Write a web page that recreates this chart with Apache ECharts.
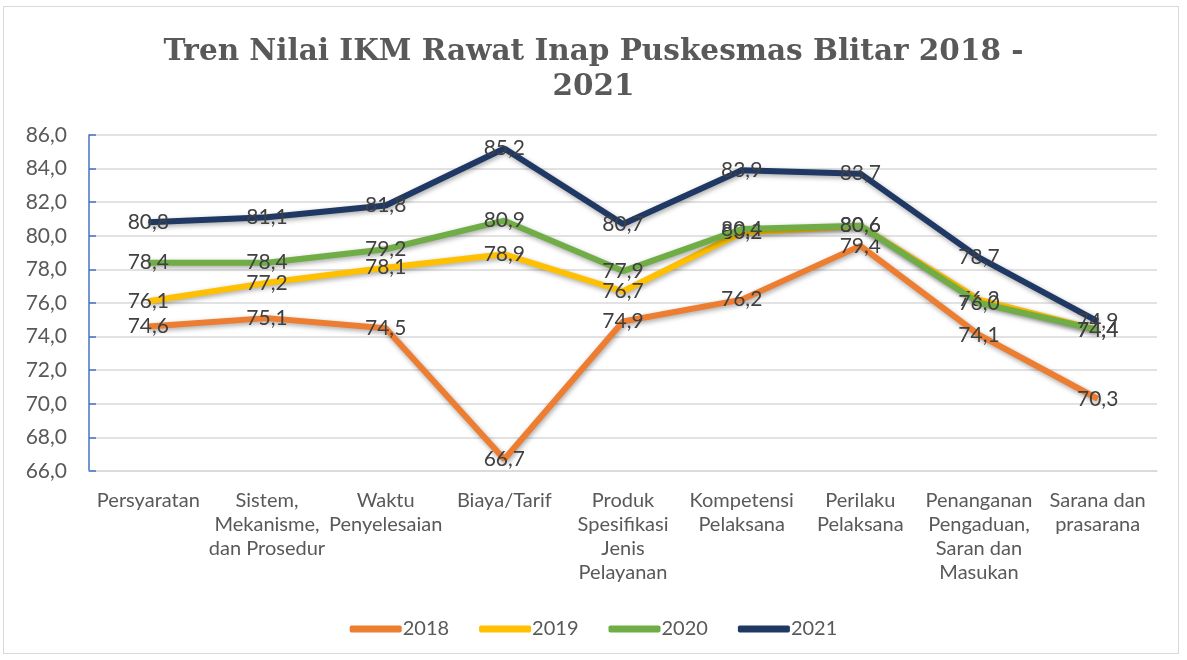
<!DOCTYPE html>
<html><head><meta charset="utf-8">
<script src="https://cdn.jsdelivr.net/npm/echarts@6/dist/echarts.min.js"></script>
<style>
html,body{margin:0;padding:0;background:#fff;}
#frame{position:absolute;left:3px;top:6px;width:1176px;height:648px;border:1.5px solid #d9d9d9;box-sizing:border-box;}
#c{position:absolute;left:0;top:0;width:1187px;height:660px;}
</style></head>
<body>
<div id="frame"></div>
<div id="c"></div>
<script>
const categories = ["Persyaratan","Sistem,\nMekanisme,\ndan Prosedur","Waktu\nPenyelesaian","Biaya/Tarif","Produk\nSpesifikasi\nJenis\nPelayanan","Kompetensi\nPelaksana","Perilaku\nPelaksana","Penanganan\nPengaduan,\nSaran dan\nMasukan","Sarana dan\nprasarana"];
const seriesNames = ["2018","2019","2020","2021"];
const v2018 = [74.6,75.1,74.5,66.7,74.9,76.2,79.4,74.1,70.3];
const v2019 = [76.1,77.2,78.1,78.9,76.7,80.2,80.6,76.2,74.4];
const v2020 = [78.4,78.4,79.2,80.9,77.9,80.4,80.6,76.0,74.4];
const v2021 = [80.8,81.1,81.8,85.2,80.7,83.9,83.7,78.7,74.9];
const colors = ["#ED7D31","#FFC000","#70AD47","#1F3864"];
const titleText = "Tren Nilai IKM Rawat Inap Puskesmas Blitar 2018 -\n2021";

const fmt = v => v.toFixed(1).replace('.', ',');
const data = [v2018, v2019, v2020, v2021];
const chart = echarts.init(document.getElementById('c'));
chart.setOption({
  animation:false,
  title:{text:titleText,left:'center',top:30,textStyle:{fontFamily:'DejaVu Serif',fontWeight:'bold',fontSize:29.5,color:'#595959',lineHeight:35}},
  grid:{left:89,right:30,top:135,bottom:189},
  legend:{bottom:16,left:'center',itemWidth:52,itemHeight:7,itemGap:30,icon:'roundRect',
    textStyle:{fontFamily:'Lato',fontSize:20,color:'#595959',padding:[0,0,0,-4]},data:seriesNames},
  xAxis:{type:'category',data:categories,boundaryGap:true,
    axisLine:{lineStyle:{color:'#d9d9d9',width:1.5}},axisTick:{show:false},
    axisLabel:{interval:0,fontFamily:'Lato',fontSize:20,color:'#595959',lineHeight:24,margin:18}},
  yAxis:{type:'value',min:66,max:86,interval:2,
    axisLine:{show:true,lineStyle:{color:'#4472C4',width:1.5}},
    axisTick:{show:true,inside:true,length:7,lineStyle:{color:'#4472C4',width:1.5}},
    splitLine:{lineStyle:{color:'#d9d9d9',width:1.5}},
    axisLabel:{formatter:v=>fmt(v),fontFamily:'Lato',fontSize:21,color:'#595959',margin:22}},
  series:data.map((d,i)=>({
    name:seriesNames[i],type:'line',data:d,symbol:'circle',symbolSize:1,showSymbol:true,
    lineStyle:{color:colors[i],width:6,shadowColor:'rgba(0,0,0,0.35)',shadowBlur:5,shadowOffsetX:1,shadowOffsetY:2},
    itemStyle:{color:colors[i]},
    label:{show:true,position:'inside',formatter:p=>fmt(p.value),fontFamily:'Lato',fontSize:21,color:'#404040'},
    labelLayout:{hideOverlap:false},
    emphasis:{disabled:true},
    z:2+i
  }))
});
</script>
</body></html>
